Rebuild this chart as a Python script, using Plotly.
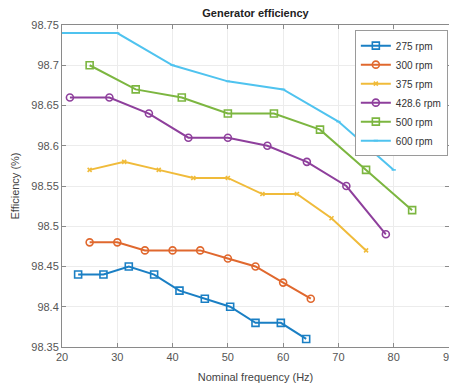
import plotly.graph_objects as go

poles_275 = [10, 12, 14, 16, 18, 20, 22, 24, 26, 28]
eff_275 = [98.44, 98.44, 98.45, 98.44, 98.42, 98.41, 98.40, 98.38, 98.38, 98.36]

poles_300 = [10, 12, 14, 16, 18, 20, 22, 24, 26]
eff_300 = [98.48, 98.48, 98.47, 98.47, 98.47, 98.46, 98.45, 98.43, 98.41]

poles_375 = [8, 10, 12, 14, 16, 18, 20, 22, 24]
eff_375 = [98.57, 98.58, 98.57, 98.56, 98.56, 98.54, 98.54, 98.51, 98.47]

poles_4286 = [6, 8, 10, 12, 14, 16, 18, 20, 22]
eff_4286 = [98.66, 98.66, 98.64, 98.61, 98.61, 98.60, 98.58, 98.55, 98.49]

poles_500 = [6, 8, 10, 12, 14, 16, 18, 20]
eff_500 = [98.70, 98.67, 98.66, 98.64, 98.64, 98.62, 98.57, 98.52]

poles_600 = [4, 6, 8, 10, 12, 14, 16]
eff_600 = [98.74, 98.74, 98.70, 98.68, 98.67, 98.63, 98.57]

speeds = [275, 300, 375, 428.6, 500, 600]
labels = ["275 rpm", "300 rpm", "375 rpm", "428.6 rpm", "500 rpm", "600 rpm"]
poles = [poles_275, poles_300, poles_375, poles_4286, poles_500, poles_600]
effs = [eff_275, eff_300, eff_375, eff_4286, eff_500, eff_600]

colors = ["#1a7fc4", "#e0682e", "#f0bb3a", "#8e3f9c", "#7cb640", "#4fc3ef"]
symbols = ["square-open", "circle-open", "x-thin-open", "circle-open", "square-open", "line-ew-open"]
msizes = [7, 7, 4, 7, 7, 3]

FONT = "Liberation Sans, Arial, sans-serif"

fig = go.Figure()
for n, lab, p, e, c, s, ms in zip(speeds, labels, poles, effs, colors, symbols, msizes):
    f = [n * pp / 120 for pp in p]
    fig.add_trace(go.Scatter(
        x=f, y=e, name=lab, mode="lines+markers",
        line=dict(color=c, width=2),
        marker=dict(symbol=s, size=ms, color=c, line=dict(color=c, width=1.6)),
    ))

axis_common = dict(
    showline=True, linecolor="#8a8a8a", linewidth=1, mirror="ticks",
    showgrid=True, gridcolor="#ececec", gridwidth=1,
    ticks="inside", ticklen=4, tickcolor="#8a8a8a",
    tickfont=dict(family=FONT, size=11, color="#555"),
    zeroline=False, automargin=False,
)

fig.update_layout(
    width=457, height=386,
    margin=dict(l=54, r=16, t=17, b=47),
    paper_bgcolor="white", plot_bgcolor="white",
    title=dict(text="<b>Generator efficiency</b>", x=0.5, xref="paper", xanchor="center",
               y=1.0, yref="container", yanchor="top", pad=dict(t=1, b=0, l=0, r=0),
               font=dict(family=FONT, size=11, color="#222")),
    xaxis=dict(range=[20, 90], tickvals=[20, 30, 40, 50, 60, 70, 80, 90],
               title=dict(text="Nominal frequency (Hz)", standoff=11,
                          font=dict(family=FONT, size=11, color="#444")),
               **axis_common),
    yaxis=dict(range=[98.35, 98.75], tickvals=[98.35, 98.4, 98.45, 98.5, 98.55, 98.6, 98.65, 98.7, 98.75],
               ticktext=["98.35", "98.4", "98.45", "98.5", "98.55", "98.6", "98.65", "98.7", "98.75"],
               title=dict(text="Efficiency (%)", standoff=9,
                          font=dict(family=FONT, size=11, color="#444")),
               **axis_common),
    legend=dict(x=0.997, y=0.984, xanchor="right", yanchor="top",
                bgcolor="white", bordercolor="#9a9a9a", borderwidth=1,
                font=dict(family=FONT, size=10, color="#333"),
                itemwidth=30, tracegroupgap=0),
    showlegend=True,
)

fig.write_html("out.html")
